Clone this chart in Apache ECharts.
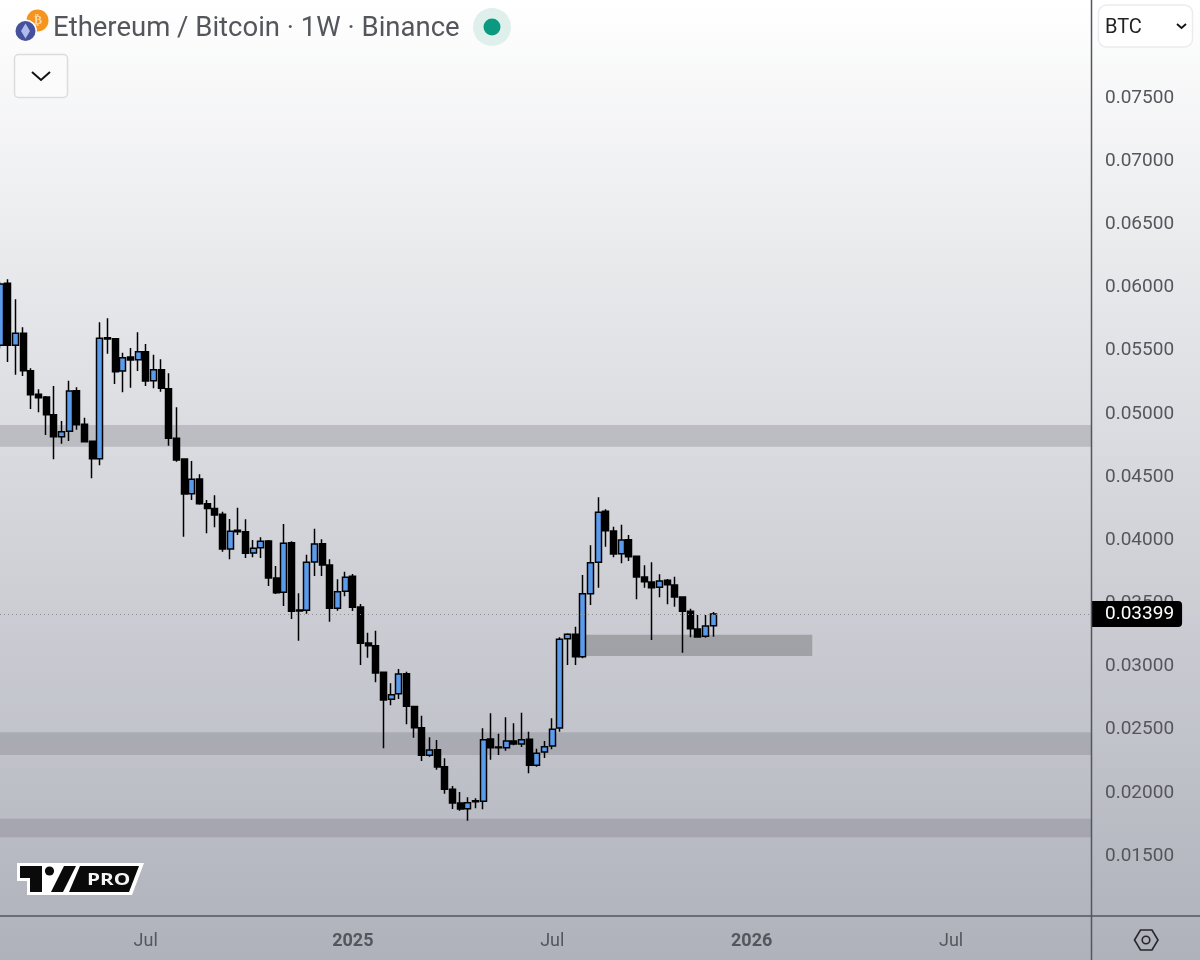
<!DOCTYPE html>
<html>
<head>
<meta charset="utf-8">
<title>Ethereum / Bitcoin</title>
<script src="https://cdn.jsdelivr.net/npm/echarts@6/dist/echarts.min.js"></script>
<style>
html, body { margin: 0; padding: 0; }
#chart { width: 1200px; height: 960px; }
</style>
</head>
<body>
<div id="chart"></div>
<script>
// weekly candles, x is the week number, week 0 = 2024-02-19
var opens = [
	0.05527, 0.06017, 0.05527, 0.05622, 0.05326, 0.05139, 0.05118, 0.04977, 0.04803, 0.04846,
	0.05167, 0.04902, 0.04767, 0.04629, 0.05587, 0.05579, 0.05323, 0.05434, 0.05413, 0.05476,
	0.05247, 0.05334, 0.05183, 0.04791, 0.04627, 0.04352, 0.04469, 0.04273, 0.04234, 0.04189,
	0.03915, 0.04063, 0.04051, 0.03883, 0.03925, 0.03978, 0.03685, 0.03572, 0.03964, 0.03432,
	0.03429, 0.03812, 0.03956, 0.03788, 0.03445, 0.03580, 0.03698, 0.03455, 0.03171, 0.03149,
	0.02939, 0.02725, 0.02769, 0.02928, 0.02668, 0.02499, 0.02282, 0.02326, 0.02191, 0.02013,
	0.01904, 0.01859, 0.01922, 0.01917, 0.02411, 0.02347, 0.02342, 0.02395, 0.02371, 0.02408,
	0.02202, 0.02308, 0.02355, 0.02498, 0.03204, 0.03239, 0.03062, 0.03561, 0.03809, 0.04213,
	0.04057, 0.03877, 0.03988, 0.03857, 0.03693, 0.03653, 0.03611, 0.03667, 0.03630, 0.03535,
	0.03421, 0.03281, 0.03224, 0.03307
];
var closes = [
	0.06012, 0.05527, 0.05622, 0.05326, 0.05136, 0.05112, 0.04977, 0.04803, 0.04843, 0.05165,
	0.04898, 0.04764, 0.04629, 0.05582, 0.05577, 0.05318, 0.05429, 0.05410, 0.05476, 0.05244,
	0.05334, 0.05186, 0.04791, 0.04619, 0.04350, 0.04466, 0.04273, 0.04234, 0.04184, 0.03915,
	0.04055, 0.04051, 0.03880, 0.03920, 0.03975, 0.03685, 0.03569, 0.03960, 0.03421, 0.03424,
	0.03809, 0.03954, 0.03788, 0.03445, 0.03577, 0.03690, 0.03453, 0.03168, 0.03149, 0.02933,
	0.02719, 0.02761, 0.02925, 0.02669, 0.02499, 0.02282, 0.02324, 0.02189, 0.02013, 0.01904,
	0.01857, 0.01906, 0.01914, 0.02405, 0.02342, 0.02342, 0.02395, 0.02371, 0.02405, 0.02202,
	0.02297, 0.02350, 0.02487, 0.03200, 0.03239, 0.03062, 0.03561, 0.03806, 0.04205, 0.04059,
	0.03875, 0.03986, 0.03853, 0.03693, 0.03656, 0.03608, 0.03661, 0.03632, 0.03535, 0.03421,
	0.03284, 0.03218, 0.03305, 0.03399
];
var highs = [
	0.06030, 0.06049, 0.05891, 0.05669, 0.05345, 0.05178, 0.05125, 0.05205, 0.04928, 0.05247,
	0.05194, 0.04954, 0.04772, 0.05709, 0.05741, 0.05582, 0.05468, 0.05505, 0.05630, 0.05537,
	0.05452, 0.05416, 0.05305, 0.05036, 0.04632, 0.04611, 0.04506, 0.04302, 0.04340, 0.04210,
	0.04152, 0.04241, 0.04150, 0.03986, 0.04007, 0.03986, 0.03780, 0.04112, 0.03975, 0.03564,
	0.03869, 0.04075, 0.03991, 0.03833, 0.03675, 0.03735, 0.03717, 0.03479, 0.03252, 0.03268,
	0.02943, 0.02851, 0.02965, 0.02943, 0.02672, 0.02595, 0.02424, 0.02403, 0.02258, 0.02039,
	0.01991, 0.01949, 0.01941, 0.02495, 0.02614, 0.02453, 0.02582, 0.02535, 0.02619, 0.02468,
	0.02334, 0.02395, 0.02575, 0.03216, 0.03247, 0.03300, 0.03709, 0.03944, 0.04324, 0.04229,
	0.04091, 0.04107, 0.04025, 0.03859, 0.03786, 0.03809, 0.03714, 0.03677, 0.03695, 0.03537,
	0.03442, 0.03392, 0.03392, 0.03416
];
var lows = [
	0.05503, 0.05395, 0.05294, 0.05284, 0.05023, 0.04996, 0.04817, 0.04624, 0.04748, 0.04769,
	0.04859, 0.04764, 0.04474, 0.04577, 0.05460, 0.05220, 0.05155, 0.05191, 0.05323, 0.05205,
	0.05186, 0.05160, 0.04732, 0.04605, 0.04012, 0.04302, 0.04265, 0.04039, 0.04086, 0.03893,
	0.03833, 0.04025, 0.03843, 0.03849, 0.03843, 0.03622, 0.03558, 0.03463, 0.03360, 0.03189,
	0.03402, 0.03701, 0.03701, 0.03339, 0.03426, 0.03540, 0.03424, 0.02996, 0.03054, 0.02859,
	0.02337, 0.02677, 0.02727, 0.02527, 0.02421, 0.02236, 0.02271, 0.02168, 0.01978, 0.01857,
	0.01843, 0.01764, 0.01862, 0.01854, 0.02247, 0.02284, 0.02318, 0.02361, 0.02347, 0.02139,
	0.02191, 0.02260, 0.02329, 0.02468, 0.02996, 0.02996, 0.03050, 0.03471, 0.03608, 0.03933,
	0.03849, 0.03801, 0.03820, 0.03516, 0.03608, 0.03194, 0.03532, 0.03477, 0.03458, 0.03094,
	0.03216, 0.03212, 0.03212, 0.03220
];

var priceTicks = [0.075, 0.07, 0.065, 0.06, 0.055, 0.05, 0.045, 0.04, 0.035, 0.03, 0.025, 0.02, 0.015];
var lastPrice = 0.03399;

// Jul 2024, Jan 2025, Jul 2025, Jan 2026, Jul 2026 as week numbers
var timeTickWeeks = [19, 46, 72, 98, 124];
var timeTickTexts = ['Jul', '2025', 'Jul', '2026', 'Jul'];

// 灰色支撑阻力区 [上沿, 下沿]
var fullZones = [[0.04896, 0.04724], [0.02464, 0.02284], [0.01780, 0.01633]];
var boxZone = [0.03236, 0.03068];
var boxStartWeek = 75.2;
var boxEndWeek = 105.9;

var candles = [];
for (var i = 0; i < opens.length; ++i) {
	candles.push([i, opens[i], closes[i], lows[i], highs[i]]);
}

function zoneBands() {
	var bands = [];
	for (var i = 0; i < fullZones.length; ++i) {
		bands.push([{ yAxis: fullZones[i][0] }, { yAxis: fullZones[i][1] }]);
	}
	bands.push([
		{ xAxis: boxStartWeek, yAxis: boxZone[0], itemStyle: { color: 'rgba(105,105,108,0.42)' } },
		{ xAxis: boxEndWeek, yAxis: boxZone[1] }
	]);
	return bands;
}

var textColor = '#55565c';
var frameColor = '#55565e';

var myChart = echarts.init(document.getElementById('chart'), null, { renderer: 'canvas' });

var option = {
	animation: false,
	backgroundColor: new echarts.graphic.LinearGradient(0, 0, 0, 1, [
		{ offset: 0, color: '#ffffff' },
		{ offset: 1, color: '#afb1bb' }
	]),
	textStyle: { fontFamily: 'Roboto' },
	grid: { left: 0, top: 0, width: 1091, height: 916 },
	xAxis: {
		type: 'value',
		min: 0,
		max: 142.24,
		axisLine: { show: false },
		axisTick: { show: false },
		splitLine: { show: false },
		axisLabel: {
			customValues: timeTickWeeks,
			margin: 16,
			hideOverlap: false,
			color: textColor,
			fontSize: 18,
			fontFamily: 'Roboto',
			formatter: function(value) {
				var text = timeTickTexts[timeTickWeeks.indexOf(+value)];
				return text.length > 3 ? '{year|' + text + '}' : text;
			},
			rich: {
				year: { fontWeight: 'bold', fontSize: 18, color: textColor, fontFamily: 'Roboto' }
			}
		}
	},
	yAxis: {
		type: 'value',
		position: 'right',
		min: 0.010096,
		max: 0.082598,
		axisLine: { show: false },
		axisTick: { show: false },
		splitLine: { show: false },
		axisLabel: {
			customValues: priceTicks,
			margin: 14,
			color: textColor,
			fontSize: 19,
			fontFamily: 'Roboto',
			// 文字比刻度略低一点
			verticalAlign: 'top',
			lineHeight: 4,
			formatter: function(value) {
				return value.toFixed(5);
			}
		}
	},
	series: [{
		type: 'candlestick',
		barWidth: 6.5,
		z: 5,
		encode: { x: 0, y: [1, 2, 3, 4] },
		data: candles,
		itemStyle: {
			color: '#5b9bec',
			color0: '#000000',
			borderColor: '#000000',
			borderColor0: '#000000',
			borderWidth: 1.5
		},
		markArea: {
			silent: true,
			z: 1,
			itemStyle: { color: 'rgba(115,115,125,0.3)' },
			data: zoneBands()
		},
		markLine: {
			silent: true,
			symbol: 'none',
			precision: 5,
			z: 20,
			lineStyle: { color: '#8a8b90', type: [1, 3], width: 1 },
			label: {
				show: true,
				position: 'end',
				distance: 0,
				formatter: function(p) {
					return p.value.toFixed(5);
				},
				color: '#ffffff',
				fontSize: 19,
				fontFamily: 'Roboto',
				backgroundColor: '#000000',
				padding: [6, 8, 1, 14],
				borderRadius: [0, 4, 4, 0]
			},
			data: [{ yAxis: lastPrice }]
		}
	}],
	graphic: [
		// 坐标轴边框
		{ type: 'line', z: 30, shape: { x1: 1091.5, y1: 0, x2: 1091.5, y2: 960 }, style: { stroke: frameColor, lineWidth: 1.5 } },
		{ type: 'line', z: 30, shape: { x1: 0, y1: 916, x2: 1200, y2: 916 }, style: { stroke: frameColor, lineWidth: 1.5 } },

		// 币种图标
		{ type: 'circle', z: 31, shape: { cx: 37.5, cy: 20.5, r: 11 }, style: { fill: '#f5951f' } },
		{ type: 'text', z: 31, style: { x: 38, y: 21, text: '₿', fill: '#fbd9a8', font: 'bold 12px "DejaVu Sans"', align: 'center', verticalAlign: 'middle' } },
		{ type: 'circle', z: 32, shape: { cx: 25.5, cy: 31, r: 11.5 }, style: { fill: '#fbfbfb' } },
		{ type: 'circle', z: 33, shape: { cx: 25.5, cy: 31, r: 10 }, style: { fill: '#46519b' } },
		{ type: 'polygon', z: 34, shape: { points: [[25.5, 23.5], [30, 31], [25.5, 38.5], [21, 31]] }, style: { fill: '#aebcf0' } },

		// 标题
		{ type: 'text', z: 31, style: { x: 53, y: 29, text: 'Ethereum / Bitcoin · 1W · Binance', fill: '#55565c', font: '27.5px Roboto', verticalAlign: 'middle' } },
		{ type: 'circle', z: 31, shape: { cx: 492, cy: 27, r: 19 }, style: { fill: '#dff0ec' } },
		{ type: 'circle', z: 32, shape: { cx: 492, cy: 27, r: 8.5 }, style: { fill: '#0b9a7f' } },

		// 折叠按钮
		{ type: 'rect', z: 31, shape: { x: 14.5, y: 54.5, width: 53, height: 43, r: 4 }, style: { fill: '#fbfbfb', stroke: '#dcdcde', lineWidth: 1.5 } },
		{ type: 'polyline', z: 32, shape: { points: [[32, 72], [41, 80], [50, 72]] }, style: { fill: 'none', stroke: '#111111', lineWidth: 2 } },

		// 币种选择
		{ type: 'rect', z: 31, shape: { x: 1098.5, y: 5, width: 94, height: 42, r: 8 }, style: { fill: '#ffffff', stroke: '#ececee', lineWidth: 1.5 } },
		{ type: 'text', z: 32, style: { x: 1105, y: 28, text: 'BTC', fill: '#222225', font: '20px Roboto', verticalAlign: 'middle' } },
		{ type: 'polyline', z: 32, shape: { points: [[1177, 24], [1181.5, 28], [1186, 24]] }, style: { fill: 'none', stroke: '#111111', lineWidth: 1.8 } },

		// 右下角设置图标
		{ type: 'polygon', z: 31, shape: { points: [[1134.5, 940], [1140.5, 930], [1152, 930], [1158, 940], [1152, 950], [1140.5, 950]] }, style: { fill: 'none', stroke: '#26262b', lineWidth: 1.6 } },
		{ type: 'circle', z: 31, shape: { cx: 1146, cy: 940, r: 3.8 }, style: { fill: 'none', stroke: '#26262b', lineWidth: 1.6 } },

		// TV PRO 标识
		{ type: 'polygon', z: 31, shape: { points: [[17, 863], [144, 863], [132, 895], [37, 895], [27, 895], [27, 881], [17, 881]] }, style: { fill: '#ffffff' } },
		{ type: 'polygon', z: 32, shape: { points: [[20, 866], [42, 866], [42, 892], [30, 892], [30, 878], [20, 878]] }, style: { fill: '#0a0a0a' } },
		{ type: 'circle', z: 32, shape: { cx: 49.5, cy: 871, r: 4.6 }, style: { fill: '#0a0a0a' } },
		{ type: 'polygon', z: 32, shape: { points: [[64, 866], [76, 866], [63, 892], [51, 892]] }, style: { fill: '#0a0a0a' } },
		{ type: 'polygon', z: 32, shape: { points: [[80, 866], [139, 866], [129, 892], [69, 892]] }, style: { fill: '#0a0a0a' } },
		{ type: 'text', z: 33, x: 87, y: 880, scaleX: 1.3, style: { x: 0, y: 0, text: 'PRO', fill: '#f4f4f4', font: 'bold 16px "Open Sans"', verticalAlign: 'middle' } }
	]
};

myChart.setOption(option);
</script>
</body>
</html>
